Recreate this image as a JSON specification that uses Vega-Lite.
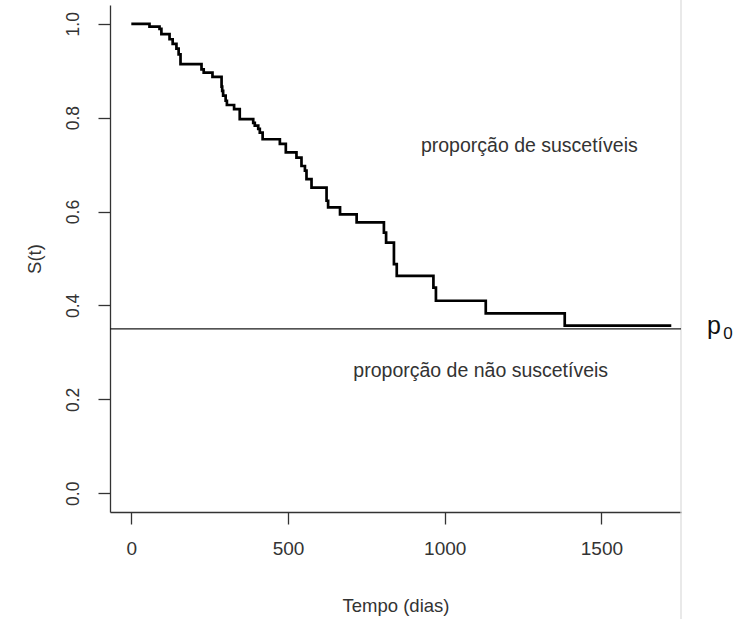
{
  "$schema": "https://vega.github.io/schema/vega-lite/v6.json",
  "width": 571,
  "height": 507,
  "autosize": {"type": "none"},
  "padding": {"left": 110, "top": 5, "right": 53, "bottom": 107},
  "background": "white",
  "config": {
    "view": {"stroke": null},
    "font": "Liberation Sans",
    "axis": {
      "grid": false,
      "domainColor": "#333333",
      "domainWidth": 1.3,
      "tickColor": "#333333",
      "tickWidth": 1.3,
      "tickSize": 12,
      "labelColor": "#333333",
      "labelFont": "Liberation Sans",
      "labelFontSize": 19,
      "labelFlush": false,
      "labelOverlap": false,
      "titleColor": "#333333",
      "titleFont": "Liberation Sans",
      "titleFontSize": 18.5,
      "titleFontWeight": "normal"
    }
  },
  "datasets": {
    "km": [
      {"t": 0, "s": 1.0},
      {"t": 58, "s": 0.994},
      {"t": 90, "s": 0.989},
      {"t": 96, "s": 0.978},
      {"t": 122, "s": 0.967},
      {"t": 132, "s": 0.957},
      {"t": 144, "s": 0.947},
      {"t": 151, "s": 0.935},
      {"t": 157, "s": 0.914},
      {"t": 224, "s": 0.903},
      {"t": 231, "s": 0.896},
      {"t": 259, "s": 0.887},
      {"t": 288, "s": 0.866},
      {"t": 290, "s": 0.857},
      {"t": 293, "s": 0.847},
      {"t": 301, "s": 0.836},
      {"t": 305, "s": 0.827},
      {"t": 328, "s": 0.818},
      {"t": 346, "s": 0.797},
      {"t": 389, "s": 0.789},
      {"t": 394, "s": 0.783},
      {"t": 405, "s": 0.776},
      {"t": 410, "s": 0.768},
      {"t": 419, "s": 0.754},
      {"t": 474, "s": 0.744},
      {"t": 493, "s": 0.726},
      {"t": 527, "s": 0.715},
      {"t": 543, "s": 0.697},
      {"t": 554, "s": 0.687},
      {"t": 559, "s": 0.669},
      {"t": 575, "s": 0.651},
      {"t": 623, "s": 0.623},
      {"t": 628, "s": 0.609},
      {"t": 666, "s": 0.594},
      {"t": 719, "s": 0.577},
      {"t": 806, "s": 0.555},
      {"t": 813, "s": 0.534},
      {"t": 838, "s": 0.488},
      {"t": 847, "s": 0.463},
      {"t": 964, "s": 0.438},
      {"t": 972, "s": 0.41},
      {"t": 1131, "s": 0.383},
      {"t": 1383, "s": 0.357},
      {"t": 1723, "s": 0.357}
    ],
    "notes": [
      {"t": 1270, "s": 0.74, "label": "proporção de suscetíveis"},
      {"t": 1115, "s": 0.261, "label": "proporção de não suscetíveis"}
    ],
    "p0line": [{"s": 0.35}],
    "border": [{"t": 1754, "s": 1.06, "s2": -0.28}],
    "plabel": [{"t": 1837, "s": 0.3394, "label": "p"}],
    "sublabel": [{"t": 1889, "s": 0.328, "label": "0"}]
  },
  "layer": [
    {
      "data": {"name": "border"},
      "mark": {"type": "rule", "color": "#dadada", "strokeWidth": 1.2},
      "encoding": {
        "x": {"field": "t", "type": "quantitative", "scale": {"domain": [-68, 1754], "nice": false, "zero": false}, "axis": {"values": [0, 500, 1000, 1500], "format": "d", "title": "Tempo (dias)", "labelPadding": 15, "titleY": 99, "titleBaseline": "alphabetic"}},
        "y": {"field": "s", "type": "quantitative", "scale": {"domain": [-0.04, 1.04], "nice": false, "zero": false}, "axis": {"values": [0, 0.2, 0.4, 0.6, 0.8, 1.0], "format": ".1f", "title": "S(t)", "labelAngle": -90, "labelAlign": "center", "labelBaseline": "alphabetic", "labelPadding": 20, "labelFontSize": 17.5, "titleAngle": -90, "titleX": -70, "titleBaseline": "alphabetic"}},
        "y2": {"field": "s2"}
      }
    },
    {
      "data": {"name": "p0line"},
      "mark": {"type": "rule", "color": "#1a1a1a", "strokeWidth": 1.3},
      "encoding": {
        "y": {"field": "s", "type": "quantitative", "scale": {"domain": [-0.04, 1.04], "nice": false, "zero": false}, "axis": {"values": [0, 0.2, 0.4, 0.6, 0.8, 1.0], "format": ".1f", "title": "S(t)", "labelAngle": -90, "labelAlign": "center", "labelBaseline": "alphabetic", "labelPadding": 20, "labelFontSize": 17.5, "titleAngle": -90, "titleX": -70, "titleBaseline": "alphabetic"}}
      }
    },
    {
      "data": {"name": "km"},
      "mark": {"type": "line", "interpolate": "step-after", "color": "#000000", "strokeWidth": 2.7},
      "encoding": {
        "x": {"field": "t", "type": "quantitative", "scale": {"domain": [-68, 1754], "nice": false, "zero": false}, "axis": {"values": [0, 500, 1000, 1500], "format": "d", "title": "Tempo (dias)", "labelPadding": 15, "titleY": 99, "titleBaseline": "alphabetic"}},
        "y": {"field": "s", "type": "quantitative", "scale": {"domain": [-0.04, 1.04], "nice": false, "zero": false}, "axis": {"values": [0, 0.2, 0.4, 0.6, 0.8, 1.0], "format": ".1f", "title": "S(t)", "labelAngle": -90, "labelAlign": "center", "labelBaseline": "alphabetic", "labelPadding": 20, "labelFontSize": 17.5, "titleAngle": -90, "titleX": -70, "titleBaseline": "alphabetic"}}
      }
    },
    {
      "data": {"name": "notes"},
      "mark": {"type": "text", "font": "Liberation Sans", "fontSize": 19.5, "color": "#333333", "align": "center", "baseline": "middle"},
      "encoding": {
        "x": {"field": "t", "type": "quantitative", "scale": {"domain": [-68, 1754], "nice": false, "zero": false}, "axis": {"values": [0, 500, 1000, 1500], "format": "d", "title": "Tempo (dias)", "labelPadding": 15, "titleY": 99, "titleBaseline": "alphabetic"}},
        "y": {"field": "s", "type": "quantitative", "scale": {"domain": [-0.04, 1.04], "nice": false, "zero": false}, "axis": {"values": [0, 0.2, 0.4, 0.6, 0.8, 1.0], "format": ".1f", "title": "S(t)", "labelAngle": -90, "labelAlign": "center", "labelBaseline": "alphabetic", "labelPadding": 20, "labelFontSize": 17.5, "titleAngle": -90, "titleX": -70, "titleBaseline": "alphabetic"}},
        "text": {"field": "label"}
      }
    },
    {
      "data": {"name": "plabel"},
      "mark": {"type": "text", "font": "Liberation Sans", "fontSize": 25, "color": "#111111", "align": "left", "baseline": "alphabetic"},
      "encoding": {
        "x": {"field": "t", "type": "quantitative", "scale": {"domain": [-68, 1754], "nice": false, "zero": false}, "axis": {"values": [0, 500, 1000, 1500], "format": "d", "title": "Tempo (dias)", "labelPadding": 15, "titleY": 99, "titleBaseline": "alphabetic"}},
        "y": {"field": "s", "type": "quantitative", "scale": {"domain": [-0.04, 1.04], "nice": false, "zero": false}, "axis": {"values": [0, 0.2, 0.4, 0.6, 0.8, 1.0], "format": ".1f", "title": "S(t)", "labelAngle": -90, "labelAlign": "center", "labelBaseline": "alphabetic", "labelPadding": 20, "labelFontSize": 17.5, "titleAngle": -90, "titleX": -70, "titleBaseline": "alphabetic"}},
        "text": {"field": "label"}
      }
    },
    {
      "data": {"name": "sublabel"},
      "mark": {"type": "text", "font": "Liberation Sans", "fontSize": 17, "color": "#111111", "align": "left", "baseline": "alphabetic"},
      "encoding": {
        "x": {"field": "t", "type": "quantitative", "scale": {"domain": [-68, 1754], "nice": false, "zero": false}, "axis": {"values": [0, 500, 1000, 1500], "format": "d", "title": "Tempo (dias)", "labelPadding": 15, "titleY": 99, "titleBaseline": "alphabetic"}},
        "y": {"field": "s", "type": "quantitative", "scale": {"domain": [-0.04, 1.04], "nice": false, "zero": false}, "axis": {"values": [0, 0.2, 0.4, 0.6, 0.8, 1.0], "format": ".1f", "title": "S(t)", "labelAngle": -90, "labelAlign": "center", "labelBaseline": "alphabetic", "labelPadding": 20, "labelFontSize": 17.5, "titleAngle": -90, "titleX": -70, "titleBaseline": "alphabetic"}},
        "text": {"field": "label"}
      }
    }
  ]
}
